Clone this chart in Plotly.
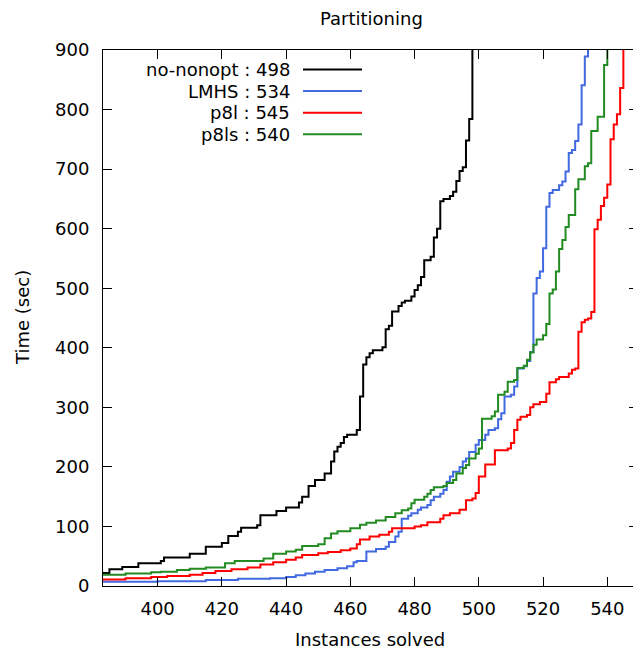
import plotly.graph_objects as go

# ---- data (step corners) ----
black_x = [380, 385, 389, 394, 401, 402, 410, 415, 420, 422, 425, 426, 431, 432, 437, 440, 444, 445, 447, 449,
           452, 454, 455, 456, 457, 458, 459, 462, 463, 464, 465, 466, 467, 470, 471, 472, 473, 475, 476, 477,
           479, 480, 481, 482, 483, 485, 486, 487, 488, 489, 491, 492, 493, 494, 495, 496, 497, 498]
black_y = [22, 28, 32, 38, 42, 48, 54, 66, 72, 84, 91, 98, 102, 119, 126, 132, 140, 150, 168, 178,
           189, 209, 226, 234, 240, 250, 254, 262, 318, 372, 384, 391, 396, 401, 431, 437, 461, 470, 476, 479,
           486, 497, 505, 519, 547, 553, 585, 600, 646, 650, 655, 662, 680, 697, 703, 748, 784, 900]

blue_x = [380, 400, 415, 425, 435, 440, 443, 446, 449, 452, 456, 459, 461, 462, 465, 468, 471, 472, 474, 475,
          476, 478, 479, 481, 482, 484, 485, 486, 488, 489, 490, 491, 492, 494, 495, 496, 497, 499, 500, 502,
          503, 505, 506, 507, 508, 510, 511, 512, 514, 515, 516, 517, 518, 519, 520, 521, 522, 523, 525, 526,
          527, 528, 529, 530, 531, 532, 533, 534]
blue_y = [7, 8, 10, 12, 13, 15, 18, 21, 24, 27, 30, 33, 40, 42, 58, 62, 66, 74, 83, 91,
          113, 118, 122, 128, 132, 136, 144, 150, 155, 161, 175, 184, 192, 200, 209, 214, 225, 237, 245, 254,
          262, 265, 280, 290, 318, 321, 335, 365, 369, 378, 393, 491, 517, 528, 567, 637, 660, 665, 673, 679,
          696, 727, 732, 747, 775, 841, 889, 900]

red_x = [380, 390, 398, 403, 410, 414, 418, 423, 428, 432, 436, 440, 443, 445, 450, 453, 457, 460, 462, 463,
         466, 469, 472, 473, 480, 482, 484, 488, 489, 491, 494, 496, 498, 499, 500, 502, 505, 509, 510, 511,
         512, 513, 515, 516, 517, 519, 521, 522, 524, 525, 528, 529, 530, 531, 532, 533, 534, 535, 536, 537,
         538, 539, 540, 541, 542, 543, 544, 545]
red_y = [11, 13, 15, 17, 19, 22, 25, 28, 31, 36, 40, 44, 48, 52, 55, 57, 60, 63, 70, 78,
         83, 86, 91, 97, 100, 102, 107, 113, 119, 122, 128, 144, 147, 156, 184, 204, 228, 231, 240, 262,
         279, 284, 287, 300, 305, 309, 323, 342, 347, 351, 357, 363, 365, 427, 443, 447, 449, 460, 599, 615,
         638, 652, 674, 750, 775, 792, 836, 900]

green_x = [380, 390, 398, 401, 406, 410, 415, 421, 424, 433, 436, 440, 443, 445, 450, 452, 454, 456, 460, 463,
           465, 468, 471, 474, 476, 478, 479, 480, 483, 484, 485, 486, 489, 490, 492, 493, 495, 496, 497, 499,
           500, 501, 504, 505, 506, 508, 509, 511, 512, 514, 515, 516, 517, 518, 520, 521, 522, 523, 524, 525,
           526, 527, 528, 530, 531, 533, 534, 535, 537, 539, 540]
green_y = [19, 21, 23, 24, 27, 29, 31, 38, 42, 46, 54, 58, 61, 67, 70, 80, 88, 92, 97, 103,
           106, 110, 116, 122, 127, 130, 139, 145, 150, 155, 161, 166, 168, 173, 178, 189, 198, 203, 214, 222,
           231, 281, 285, 293, 321, 326, 343, 346, 366, 370, 380, 392, 405, 414, 421, 440, 491, 498, 528, 566,
           581, 603, 623, 666, 683, 705, 710, 764, 788, 875, 900]

series_names = ["no-nonopt : 498", "LMHS : 534", "p8l : 545", "p8ls : 540"]
series_colors = ["#000000", "#4169e1", "#ff0000", "#228b22"]
x_ticks = [400, 420, 440, 460, 480, 500, 520, 540]
y_ticks = [0, 100, 200, 300, 400, 500, 600, 700, 800, 900]

FONT = "DejaVu Sans"
FS = 18

W, H = 633, 652
L, R, T, B = 103, 0, 50, 66

fig = go.Figure()
all_series = [(black_x, black_y), (blue_x, blue_y), (red_x, red_y), (green_x, green_y)]
for (xs, ys), name, col in zip(all_series, series_names, series_colors):
    assert len(xs) == len(ys)
    fig.add_trace(go.Scatter(x=xs, y=ys, mode="lines", line=dict(color=col, width=2, shape="hv"),
                             name=name, showlegend=False, hoverinfo="skip"))

# invisible trace so the right-side tick axis is drawn
fig.add_trace(go.Scatter(x=[383], y=[0], yaxis="y2", mode="markers", marker=dict(opacity=0),
                         showlegend=False, hoverinfo="skip"))

axis_common = dict(showgrid=False, zeroline=False, ticks="inside", ticklen=9, tickwidth=1,
                   tickcolor="black", showline=True, linecolor="black", linewidth=1,
                   tickfont=dict(family=FONT, size=FS, color="black"))

fig.update_layout(
    width=W, height=H,
    margin=dict(l=L, r=R, t=T, b=B, pad=0),
    paper_bgcolor="white", plot_bgcolor="white",
    showlegend=False,
    font=dict(family=FONT, size=FS, color="black"),
    xaxis=dict(range=[383, 548], tickvals=x_ticks, mirror="ticks", ticklabelstandoff=6, **axis_common),
    yaxis=dict(range=[0, 900], tickvals=y_ticks, mirror=False, ticklabelstandoff=9, **axis_common),
    yaxis2=dict(range=[0, 900], tickvals=y_ticks, overlaying="y", side="right", ticks="inside",
                ticklen=4, tickcolor="black", showticklabels=False, showline=False,
                showgrid=False, zeroline=False),
)

plot_w = W - L - R
plot_h = H - T - B

def px_x(p):
    return (p - L) / plot_w

def px_y(p):
    return (H - B - p) / plot_h

# titles
fig.add_annotation(text="Partitioning", xref="paper", yref="paper", x=px_x(371), y=px_y(18),
                   showarrow=False, xanchor="center", yanchor="middle", font=dict(size=FS))
fig.add_annotation(text="Instances solved", xref="paper", yref="paper", x=px_x(370), y=px_y(639),
                   showarrow=False, xanchor="center", yanchor="middle", font=dict(size=FS))
fig.add_annotation(text="Time (sec)", xref="paper", yref="paper", x=px_x(22), y=px_y(318),
                   showarrow=False, xanchor="center", yanchor="middle", textangle=-90, font=dict(size=FS))

# legend (text right-aligned, sample line to the right)
legend_rows = [69.5, 91.1, 112.7, 134.3]
for name, col, ry in zip(series_names, series_colors, legend_rows):
    fig.add_annotation(text=name, xref="paper", yref="paper", x=px_x(292), y=px_y(ry),
                       showarrow=False, xanchor="right", yanchor="middle", font=dict(size=FS))
    fig.add_shape(type="line", xref="paper", yref="paper", x0=px_x(303), x1=px_x(362),
                  y0=px_y(ry), y1=px_y(ry), line=dict(color=col, width=2))

fig.write_html("out.html")
